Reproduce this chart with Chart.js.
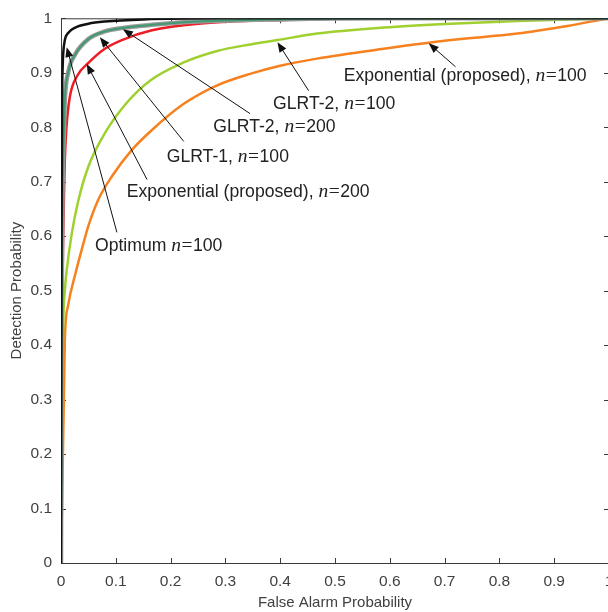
<!DOCTYPE html>
<html>
<head>
<meta charset="utf-8">
<script src="https://cdn.jsdelivr.net/npm/chart.js@4.4.1/dist/chart.umd.min.js"></script>
<style>
  html, body { margin: 0; padding: 0; background: #fff; overflow: hidden; }
  #wrap { width: 640px; height: 612px; }
</style>
</head>
<body>
<div id="wrap"><canvas id="roc" width="640" height="612"></canvas></div>
<script>
// ROC curves (false alarm prob -> detection prob)
const optimumX = [0, 0.001, 0.002, 0.003, 0.004, 0.007, 0.013, 0.026, 0.05, 0.08, 0.15, 0.3, 1];
const optimumY = [0, 0.6, 0.85, 0.91, 0.935, 0.96, 0.973, 0.983, 0.99, 0.994, 0.998, 1, 1];

const glrt2X = [0, 0.001, 0.002, 0.003, 0.005, 0.007, 0.013, 0.026, 0.05, 0.08, 0.11, 0.166, 0.25, 0.4, 0.6, 1];
const glrt2Y = [0, 0.4, 0.6, 0.7, 0.78, 0.85, 0.9, 0.934, 0.962, 0.976, 0.982, 0.988, 0.994, 0.998, 1, 1];

const redX = [0, 0.001, 0.002, 0.004, 0.006, 0.007, 0.01, 0.016, 0.03, 0.05, 0.08, 0.111, 0.166, 0.25, 0.4, 0.6, 1];
const redY = [0, 0.3, 0.45, 0.6, 0.7, 0.74, 0.8, 0.855, 0.895, 0.918, 0.944, 0.96, 0.978, 0.99, 0.997, 1, 1];

const greenX = [0, 0.001, 0.002, 0.004, 0.007, 0.01, 0.02, 0.032, 0.05, 0.08, 0.12, 0.163, 0.224, 0.285, 0.345, 0.395, 0.467, 0.589, 0.711, 0.833, 1];
const greenY = [0, 0.2, 0.3, 0.44, 0.5, 0.534, 0.607, 0.667, 0.728, 0.789, 0.845, 0.886, 0.919, 0.94, 0.952, 0.96, 0.972, 0.983, 0.99, 0.995, 1];

const orangeX = [0, 0.002, 0.004, 0.006, 0.007, 0.013, 0.026, 0.038, 0.05, 0.068, 0.093, 0.129, 0.166, 0.224, 0.285, 0.345, 0.4, 0.467, 0.589, 0.711, 0.833, 0.924, 1];
const orangeY = [0, 0.11, 0.23, 0.35, 0.41, 0.473, 0.53, 0.576, 0.619, 0.667, 0.71, 0.758, 0.795, 0.843, 0.877, 0.898, 0.913, 0.926, 0.944, 0.96, 0.972, 0.986, 1];

const tickValues = [0, 0.1, 0.2, 0.3, 0.4, 0.5, 0.6, 0.7, 0.8, 0.9, 1];

// labels with arrows: tip / tail / text-left-middle in data units
const callouts = [
  { name: 'Exponential (proposed), ', n: '100', tip: [0.671, 0.954], tail: [0.720, 0.911], text: [0.516, 0.894] },
  { name: 'GLRT-2, ', n: '100', tip: [0.395, 0.956], tail: [0.452, 0.867], text: [0.387, 0.843] },
  { name: 'GLRT-2, ', n: '200', tip: [0.113, 0.980], tail: [0.345, 0.825], text: [0.278, 0.800] },
  { name: 'GLRT-1, ', n: '100', tip: [0.071, 0.965], tail: [0.224, 0.774], text: [0.193, 0.746] },
  { name: 'Exponential (proposed), ', n: '200', tip: [0.047, 0.916], tail: [0.157, 0.704], text: [0.120, 0.681] },
  { name: 'Optimum ', n: '100', tip: [0.0104, 0.947], tail: [0.102, 0.607], text: [0.062, 0.582] }
];

const SANS = '"Liberation Sans", Arial, Helvetica, sans-serif';
const SERIF = '"Liberation Serif", "Times New Roman", serif';

const pts = (xs, ys) => xs.map((x, i) => ({ x, y: ys[i] }));

const frame = {
  id: 'frame',
  beforeDatasetsDraw(chart) {
    const { ctx, chartArea: a, scales: { x, y } } = chart;
    ctx.save();
    ctx.strokeStyle = '#3a3a3a';
    ctx.lineWidth = 1;
    ctx.strokeRect(a.left + 0.5, a.top + 0.5, a.right - a.left, a.bottom - a.top);
    ctx.beginPath();
    tickValues.forEach(v => {
      const px = Math.round(x.getPixelForValue(v)) + 0.5;
      ctx.moveTo(px, a.bottom); ctx.lineTo(px, a.bottom - 5);
      ctx.moveTo(px, a.top); ctx.lineTo(px, a.top + 5);
      const py = Math.round(y.getPixelForValue(v)) + 0.5;
      ctx.moveTo(a.left, py); ctx.lineTo(a.left + 5, py);
      ctx.moveTo(a.right, py); ctx.lineTo(a.right - 5, py);
    });
    ctx.stroke();
    ctx.restore();
  }
};

const arrows = {
  id: 'arrows',
  afterDatasetsDraw(chart) {
    const { ctx, scales: { x, y } } = chart;
    ctx.save();
    callouts.forEach(c => {
      const tx = x.getPixelForValue(c.tip[0]), ty = y.getPixelForValue(c.tip[1]);
      const sx = x.getPixelForValue(c.tail[0]), sy = y.getPixelForValue(c.tail[1]);
      const ang = Math.atan2(ty - sy, tx - sx);
      ctx.strokeStyle = '#111';
      ctx.fillStyle = '#111';
      ctx.lineWidth = 1;
      ctx.beginPath();
      ctx.moveTo(sx, sy);
      ctx.lineTo(tx - 6 * Math.cos(ang), ty - 6 * Math.sin(ang));
      ctx.stroke();
      ctx.beginPath();
      ctx.moveTo(tx, ty);
      ctx.lineTo(tx - 10 * Math.cos(ang) + 4 * Math.sin(ang), ty - 10 * Math.sin(ang) - 4 * Math.cos(ang));
      ctx.lineTo(tx - 10 * Math.cos(ang) - 4 * Math.sin(ang), ty - 10 * Math.sin(ang) + 4 * Math.cos(ang));
      ctx.closePath();
      ctx.fill();

      // text: name, italic n, =, value
      let px = x.getPixelForValue(c.text[0]);
      const py = y.getPixelForValue(c.text[1]);
      ctx.fillStyle = '#222';
      ctx.textBaseline = 'middle';
      ctx.textAlign = 'left';
      const parts = [
        [c.name, '17.6px ' + SANS, 0],
        ['n', 'italic 19.5px ' + SERIF, 0.5],
        ['=', '19.5px ' + SERIF, 0.5],
        [c.n, '17.6px ' + SANS, 0]
      ];
      parts.forEach(([t, f, gap]) => {
        ctx.font = f;
        ctx.fillText(t, px, py);
        px += ctx.measureText(t).width + gap;
      });
    });
    ctx.restore();
  }
};

const tickFont = { family: SANS, size: 15.5 };
const titleFont = { family: SANS, size: 15 };
const fmt = v => String(Math.round(v * 10) / 10);

new Chart(document.getElementById('roc'), {
  type: 'line',
  data: {
    datasets: [
      { data: pts(optimumX, optimumY), borderColor: '#111111', borderWidth: 2.5 },
      { data: pts(glrt2X, glrt2Y), borderColor: '#3f9a72', borderWidth: 2 },
      { data: pts(glrt2X, glrt2Y), borderColor: '#9a9a9a', borderWidth: 4.5 },
      { data: pts(redX, redY), borderColor: '#ee1c25', borderWidth: 2.5 },
      { data: pts(greenX, greenY), borderColor: '#9fd030', borderWidth: 2.5 },
      { data: pts(orangeX, orangeY), borderColor: '#f7801f', borderWidth: 2.5 }
    ]
  },
  options: {
    responsive: false,
    animation: false,
    elements: {
      point: { radius: 0 },
      line: { cubicInterpolationMode: 'monotone', fill: false }
    },
    layout: { padding: { top: 14, right: 31, left: 0, bottom: 0 } },
    plugins: { legend: { display: false }, tooltip: { enabled: false } },
    scales: {
      x: {
        type: 'linear', min: 0, max: 1,
        afterFit(s) { s.height = 49; },
        grid: { display: false, drawTicks: false },
        border: { display: false },
        ticks: { stepSize: 0.1, padding: 9, color: '#404040', font: tickFont, maxRotation: 0, autoSkip: false, callback: fmt },
        title: { display: true, text: 'False Alarm Probability', color: '#404040', font: titleFont, padding: { top: 0, bottom: 0 } }
      },
      y: {
        type: 'linear', min: 0, max: 1,
        afterFit(s) { s.width = 61; },
        grid: { display: false, drawTicks: false },
        border: { display: false },
        ticks: { stepSize: 0.1, padding: 9, color: '#404040', font: tickFont, autoSkip: false, callback: fmt },
        title: { display: true, text: 'Detection Probability', color: '#404040', font: titleFont, padding: { top: 8, bottom: 0 } }
      }
    }
  },
  plugins: [frame, arrows]
});
</script>
</body>
</html>
